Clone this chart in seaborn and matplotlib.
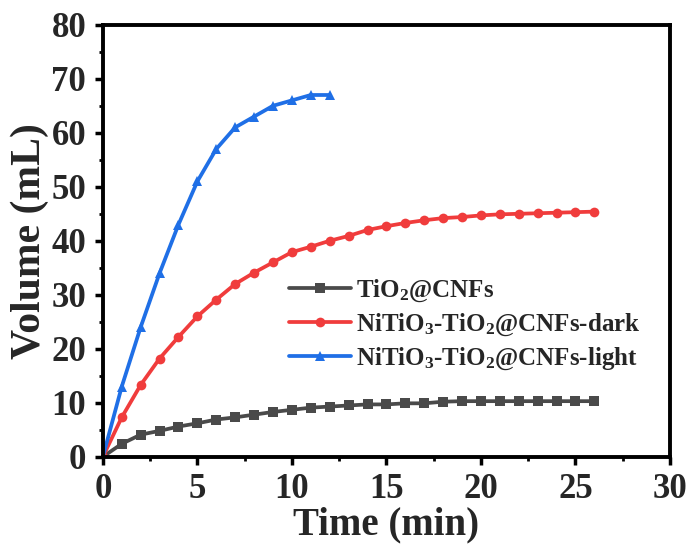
import numpy as np
import pandas as pd
import matplotlib
matplotlib.use("Agg")
import matplotlib.pyplot as plt
import seaborn as sns
from matplotlib.ticker import MultipleLocator

# data
time_long = list(range(0, 27))
time_short = list(range(0, 13))
tio2 = [0, 2.4, 4.1, 4.8, 5.6, 6.2, 6.9, 7.3, 7.8, 8.3, 8.7, 9.1, 9.3, 9.5,
        9.7, 9.7, 9.9, 9.9, 10.2, 10.3, 10.3, 10.3, 10.3, 10.3, 10.3, 10.3, 10.3]
dark = [0, 7.3, 13.3, 18.2, 22.2, 26.0, 29.1, 32.0, 34.1, 36.0, 37.9, 38.9, 40.0,
        40.9, 42.0, 42.7, 43.3, 43.8, 44.2, 44.4, 44.7, 44.9, 45.0, 45.1, 45.2, 45.3, 45.4]
light = [0, 13, 24, 34, 43, 51, 57, 61, 63, 65, 66, 67, 67]

labels = ["TiO$_2$@CNFs",
          "NiTiO$_3$-TiO$_2$@CNFs-dark",
          "NiTiO$_3$-TiO$_2$@CNFs-light"]
colors = ["#4a4a4a", "#f03c3c", "#1f6fe6"]
markers = ["s", "o", "^"]

sns.set_theme(style="white")
plt.rcParams['font.family'] = ['Liberation Serif', 'DejaVu Serif']
plt.rcParams['font.weight'] = 'bold'
plt.rcParams['mathtext.fontset'] = 'custom'
plt.rcParams['mathtext.rm'] = 'Liberation Serif:bold'
plt.rcParams['mathtext.it'] = 'Liberation Serif:bold'

fig = plt.figure(figsize=(6.95, 5.51), dpi=100)
ax = fig.add_axes([0.148, 0.171, 0.816, 0.784])

series = [(time_long, tio2), (time_long, dark), (time_short, light)]
for (t, v), lab, c, m in zip(series, labels, colors, markers):
    df = pd.DataFrame({"Time": t, "Volume": v})
    sns.lineplot(data=df, x="Time", y="Volume", ax=ax, color=c, marker=m,
                 markersize=7, markeredgewidth=0, linewidth=2.7, label=lab)

ax.set_xlim(0, 30)
ax.set_ylim(0, 80)
ax.xaxis.set_major_locator(MultipleLocator(5))
ax.xaxis.set_minor_locator(MultipleLocator(2.5))
ax.yaxis.set_major_locator(MultipleLocator(10))
ax.yaxis.set_minor_locator(MultipleLocator(5))
ax.tick_params(which='major', direction='out', length=6, width=2.5, pad=6,
               labelsize=25, bottom=True, left=True, color='black')
ax.tick_params(which='minor', direction='out', length=3, width=2,
               bottom=True, left=True, color='black')
for lbl in ax.get_xticklabels() + ax.get_yticklabels():
    lbl.set_fontweight('bold')
for s in ax.spines.values():
    s.set_linewidth(2.8)
    s.set_color('black')

ax.set_xlabel("Time (min)", fontsize=28, fontweight='bold', labelpad=0)
ax.set_ylabel("Volume (mL)", fontsize=30, fontweight='bold', labelpad=2)

ax.legend(loc='upper left', bbox_to_anchor=(0.288, 0.466), frameon=False,
          handlelength=2.5, handletextpad=0.2, labelspacing=0.3,
          prop={'weight': 'bold', 'size': 18})

fig.savefig("out.png", dpi=100)
